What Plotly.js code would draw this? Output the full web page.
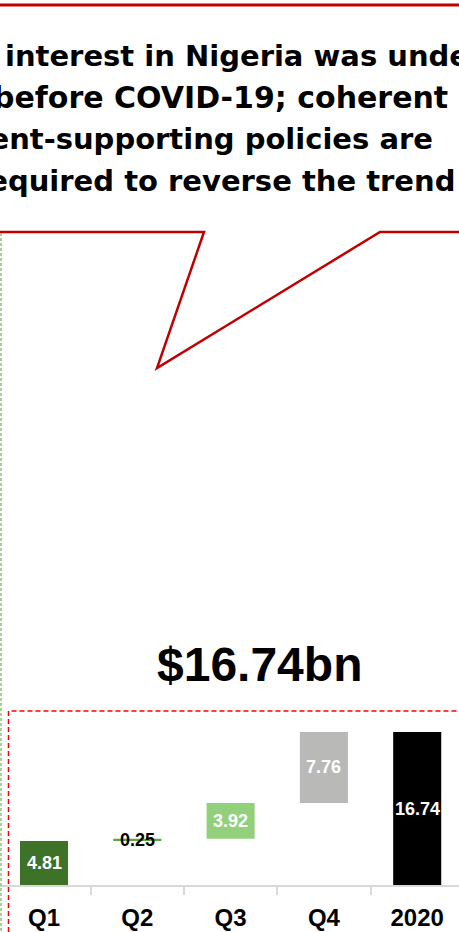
<!DOCTYPE html>
<html>
<head>
<meta charset="utf-8">
<script src="https://cdn.plot.ly/plotly-3.0.1.min.js"></script>
<style>
  html, body { margin: 0; padding: 0; background: #ffffff; }
  #chart { width: 459px; height: 932px; }
</style>
</head>
<body>
<div id="chart"></div>
<script>
// ---- data ----
const categories = ['Q1', 'Q2', 'Q3', 'Q4', '2020'];
const values = [4.81, 0.25, 3.92, 7.76, 16.74];
const valueLabels = ['4.81', '0.25', '3.92', '7.76', '16.74'];
const isTotal = [false, false, false, false, true];
const barColors = ['#3e7228', '#5ea63f', '#92d07c', '#b9bab7', '#000000'];
const labelColors = ['#ffffff', '#000000', '#ffffff', '#ffffff', '#ffffff'];
const headline = '$16.74bn';
const calloutLines = [
  'interest in Nigeria was under',
  'before COVID-19; coherent',
  'investment-supporting policies are',
  'required to reverse the trend'
];

// ---- waterfall bases from the data ----
const bases = [];
let running = 0;
for (let i = 0; i < values.length; i++) {
  if (isTotal[i]) { bases.push(0); }
  else { bases.push(running); running += values[i]; }
}

const W = 459, H = 932;
const px = x => x / W;
const py = y => 1 - y / H;

const trace = {
  type: 'bar',
  x: categories,
  y: values,
  base: bases,
  width: 0.515,
  marker: { color: barColors, line: { width: 0 } },
  hoverinfo: 'skip'
};

const annotations = [];
// value labels in bar centres (x given as category index)
for (let i = 0; i < values.length; i++) {
  annotations.push({
    x: i, y: bases[i] + values[i] / 2, xref: 'x', yref: 'y',
    text: valueLabels[i], showarrow: false,
    xanchor: 'center', yanchor: 'middle',
    font: { family: 'Liberation Sans', size: 18, color: labelColors[i], weight: 'bold' }
  });
}
// headline
annotations.push({
  x: px(259), y: py(664), xref: 'paper', yref: 'paper',
  text: headline, showarrow: false, xanchor: 'center', yanchor: 'middle',
  font: { family: 'Liberation Sans', size: 48, color: '#000000', weight: 'bold' }
});
// callout text lines
const lineY = [56, 97.5, 139, 181];
const lineX = [3, 450, 435, 457];
const lineSize = [29, 30, 29, 29];
const lineAnchor = ['left', 'right', 'right', 'right'];
for (let i = 0; i < calloutLines.length; i++) {
  annotations.push({
    x: px(lineX[i]), y: py(lineY[i]), xref: 'paper', yref: 'paper',
    text: calloutLines[i], showarrow: false,
    xanchor: lineAnchor[i], yanchor: 'middle',
    font: { family: 'DejaVu Sans', size: lineSize[i], color: '#000000', weight: 'bold' }
  });
}

const red = '#c00000';
const shapes = [
  // top edge of the callout
  { type: 'line', xref: 'paper', yref: 'paper', x0: 0, x1: 1, y0: py(5), y1: py(5),
    line: { color: red, width: 3 } },
  // bottom edge of the callout with the pointer
  { type: 'path', xref: 'paper', yref: 'paper',
    path: `M 0 ${py(232)} L ${px(204)} ${py(232)} L ${px(157)} ${py(368)} L ${px(380)} ${py(232)} L 1 ${py(232)}`,
    line: { color: red, width: 2.5 } },
  // green dashed vertical guide
  { type: 'line', xref: 'paper', yref: 'paper', x0: px(1), x1: px(1), y0: py(233), y1: 0,
    line: { color: '#8fc07a', width: 1.5, dash: '3px,2px' } },
  // red dashed frame
  { type: 'path', xref: 'paper', yref: 'paper', layer: 'above',
    path: `M ${px(8.5)} ${py(940)} L ${px(8.5)} ${py(711)} L ${px(470)} ${py(711)}`,
    line: { color: '#ff0000', width: 1.5, dash: '5px,3px' } }
];

const layout = {
  width: W, height: H,
  margin: { l: 0, r: 0, t: 0, b: 0 },
  paper_bgcolor: '#ffffff', plot_bgcolor: '#ffffff',
  showlegend: false,
  xaxis: {
    type: 'category',
    range: [-0.4716, 4.448],
    showline: true, linecolor: '#d9d9d9', linewidth: 2,
    ticks: 'outside', ticklen: 8, tickwidth: 2, tickcolor: '#d9d9d9',
    tickson: 'boundaries',
    ticklabelstandoff: 10,
    showgrid: false, zeroline: false,
    tickfont: { family: 'Liberation Sans', size: 24, color: '#000000', weight: 'bold' },
    fixedrange: true
  },
  yaxis: {
    domain: [47 / H, 1],
    range: [0, 885 / 9.14],
    visible: false, showgrid: false, zeroline: false, fixedrange: true
  },
  annotations: annotations,
  shapes: shapes
};

Plotly.newPlot('chart', [trace], layout, { displayModeBar: false, staticPlot: true });
</script>
</body>
</html>
